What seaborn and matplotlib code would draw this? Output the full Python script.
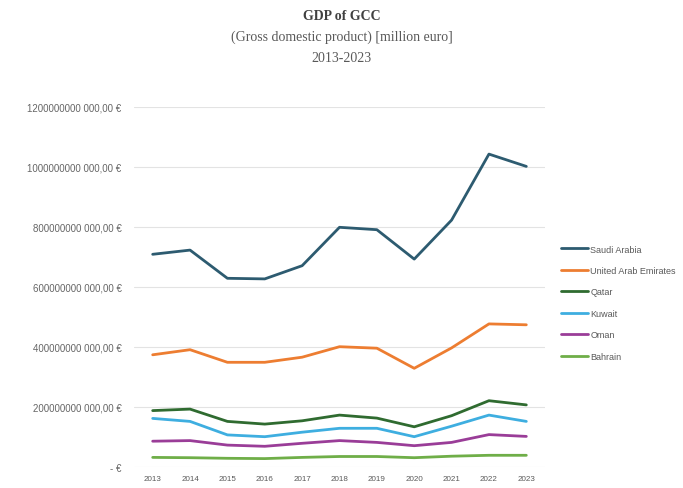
import matplotlib
matplotlib.use("Agg")
import matplotlib.pyplot as plt
import seaborn as sns
import pandas as pd

# GDP, in billion euro
years = [2013, 2014, 2015, 2016, 2017, 2018, 2019, 2020, 2021, 2022, 2023]
saudi_arabia = [709, 723, 629, 627, 671, 799, 791, 693, 823, 1043, 1002]
uae = [374, 391, 349, 349, 366, 401, 396, 329, 397, 477, 474]
qatar = [188, 193, 152, 143, 154, 173, 163, 134, 171, 221, 207]
kuwait = [162, 152, 107, 101, 116, 129, 129, 101, 136, 173, 152]
oman = [86, 88, 73, 69, 79, 88, 82, 71, 82, 108, 102]
bahrain = [32, 31, 29, 28, 32, 35, 35, 31, 36, 39, 39]

countries = ["Saudi Arabia", "United Arab Emirates", "Qatar", "Kuwait", "Oman", "Bahrain"]
series = [saudi_arabia, uae, qatar, kuwait, oman, bahrain]
colors = ["#2d5b70", "#ed7d31", "#2f6b30", "#3eaee0", "#9a3d98", "#6fae48"]

ytick_values = [0, 200, 400, 600, 800, 1000, 1200]
ytick_labels = ["- €", "200000000 000,00 €", "400000000 000,00 €", "600000000 000,00 €",
                "800000000 000,00 €", "1000000000 000,00 €", "1200000000 000,00 €"]

df = pd.DataFrame(
    [(y, c, v) for c, vals in zip(countries, series) for y, v in zip(years, vals)],
    columns=["year", "country", "gdp"],
)

sns.set_theme(style="white")
plt.rcParams["font.family"] = ["Liberation Sans", "DejaVu Sans"]

fig = plt.figure(figsize=(6.83, 4.89), dpi=100)
ax = fig.add_axes([134 / 683, 21 / 489, 411 / 683, 360 / 489])

sns.lineplot(data=df, x="year", y="gdp", hue="country", hue_order=countries,
             palette=colors, linewidth=2.0, ax=ax, legend=True)

ax.set_xlim(2012.5, 2023.5)
ax.set_ylim(0, 1200)
ax.set_xticks(years)
ax.set_xticklabels([str(y) for y in years], fontsize=5.8, color="#595959")
ax.set_yticks(ytick_values)
ax.set_yticklabels(ytick_labels, fontsize=7, color="#666666")
ax.tick_params(axis="both", length=0)
ax.tick_params(axis="y", pad=9)
ax.tick_params(axis="x", pad=6)
ax.yaxis.grid(True, color="#e3e3e3", linewidth=0.8)
ax.set_axisbelow(True)
for s in ax.spines.values():
    s.set_visible(False)
ax.set_xlabel("")
ax.set_ylabel("")

leg = ax.legend(loc="upper left", bbox_to_anchor=(556 / 683, 1 - 241 / 489),
                bbox_transform=fig.transFigure, frameon=False, fontsize=6.5,
                handlelength=3.0, handletextpad=0.3, labelspacing=1.38,
                labelcolor="#595959", borderpad=0)
for line in leg.get_lines():
    line.set_linewidth(2.0)

fig.text(0.5, 1 - 16 / 489, "GDP of GCC", ha="center", va="center",
         fontsize=10, fontweight="bold", color="#404040", family="Liberation Serif")
fig.text(0.5, 1 - 37 / 489, "(Gross domestic product) [million euro]", ha="center",
         va="center", fontsize=10, color="#595959", family="Liberation Serif")
fig.text(0.5, 1 - 58 / 489, "2013-2023", ha="center", va="center",
         fontsize=10, color="#595959", family="Liberation Serif")

fig.savefig("out.png", dpi=100, facecolor="white")
